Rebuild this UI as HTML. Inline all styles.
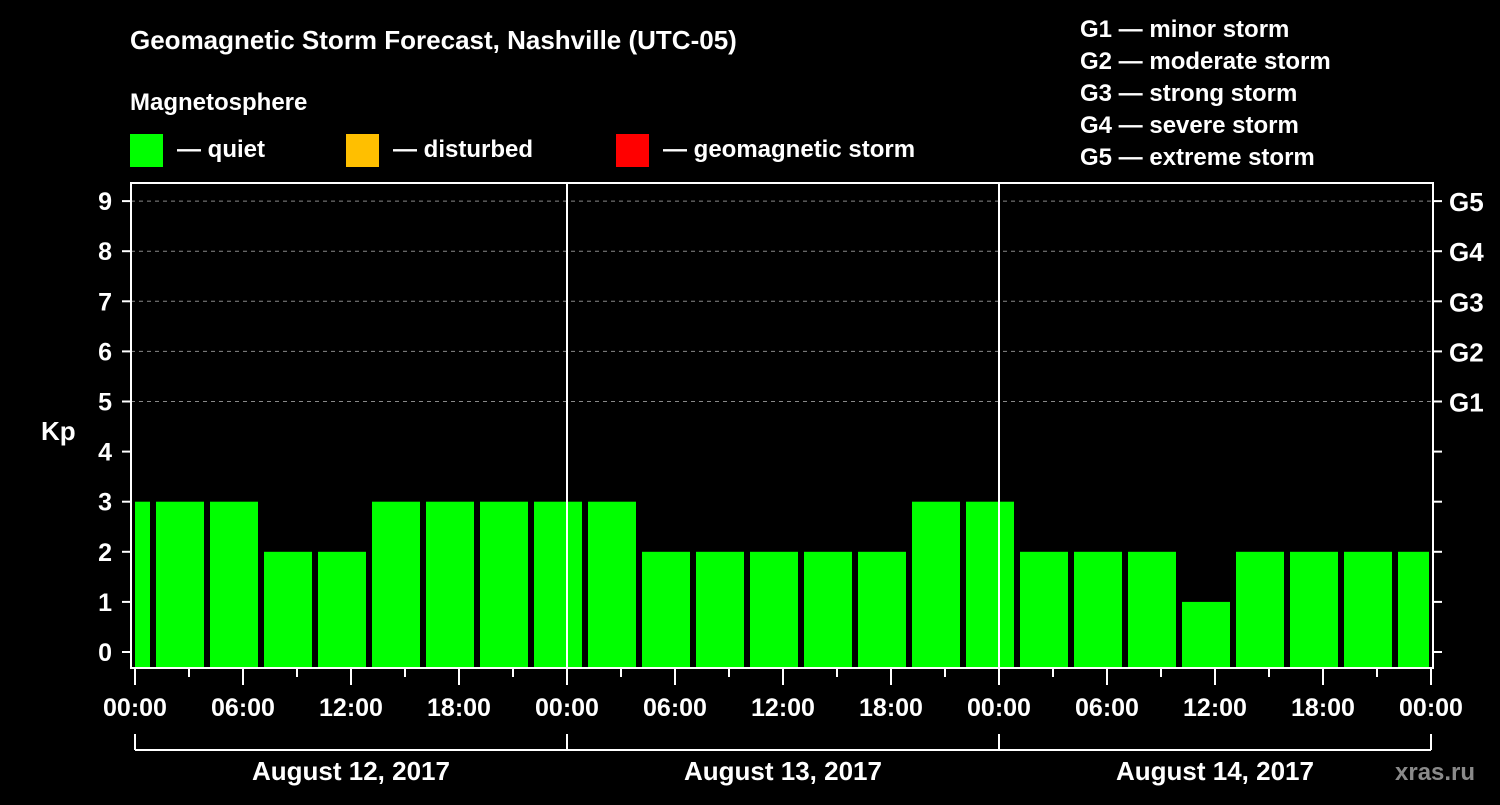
<!DOCTYPE html>
<html><head><meta charset="utf-8"><style>
html,body{margin:0;background:#000;}
svg text{font-family:"Liberation Sans",sans-serif;font-weight:bold;fill:#fff;}
</style></head><body>
<svg width="1500" height="800" xmlns="http://www.w3.org/2000/svg">
<rect width="1500" height="800" fill="#000"/>
<text x="130" y="49" font-size="26">Geomagnetic Storm Forecast, Nashville (UTC-05)</text>
<text x="130" y="110" font-size="24">Magnetosphere</text>
<g>
<rect x="130" y="134" width="33" height="33" fill="#00ff00"/>
<text x="177" y="157" font-size="24">— quiet</text>
<rect x="346" y="134" width="33" height="33" fill="#ffbf00"/>
<text x="393" y="157" font-size="24">— disturbed</text>
<rect x="616" y="134" width="33" height="33" fill="#ff0000"/>
<text x="663" y="157" font-size="24">— geomagnetic storm</text>
</g>
<g font-size="24">
<text x="1080" y="37">G1 — minor storm</text>
<text x="1080" y="69">G2 — moderate storm</text>
<text x="1080" y="101">G3 — strong storm</text>
<text x="1080" y="133">G4 — severe storm</text>
<text x="1080" y="165">G5 — extreme storm</text>
</g>
<text x="41" y="440" font-size="26">Kp</text>
<text x="1395" y="780" font-size="24" fill="#888" style="fill:#8a8a8a">xras.ru</text>
<g id="plot"></g>
</svg>
<script>
const kpValues=[3,3,3,2,2,3,3,3,3,3,2,2,2,2,2,3,3,2,2,2,1,2,2,2,2];
const yTicks=[0,1,2,3,4,5,6,7,8,9];
const gLabels=["G1","G2","G3","G4","G5"];
const hourLabels=["00:00","06:00","12:00","18:00"];
const dayLabels=["August 12, 2017","August 13, 2017","August 14, 2017"];
const NS="http://www.w3.org/2000/svg";
const g=document.getElementById('plot');
const L=131,R=1433,T=183,B=668,X0=135,PXH=18;
const y=v=>652-50.1*v;
const x=h=>X0+PXH*h;
function mk(t,a,p){const e=document.createElementNS(NS,t);for(const k in a)e.setAttribute(k,a[k]);(p||g).appendChild(e);return e;}
// grid
[5,6,7,8,9].forEach(v=>{const l=mk('line',{x1:L,x2:R,y1:y(v),y2:y(v),stroke:'#888','stroke-dasharray':'4,4','stroke-width':1});

});
// bars
kpValues.forEach((v,i)=>{const h0=3*(i-1)+1;let x1=x(h0)+3,x2=x(h0+3)-3;x1=Math.max(x1,X0);x2=Math.min(x2,x(72)-2);
const r=mk('rect',{x:x1,y:y(v),width:x2-x1,height:B-y(v),fill:v>=5?'#ff0000':(v>=4?'#ffbf00':'#00ff00')});

});
// day separators
[24,48].forEach(h=>{const l=mk('line',{x1:x(h),x2:x(h),y1:T,y2:B,stroke:'#fff','stroke-width':2});

});
// frame
const f=mk('rect',{x:L,y:T,width:R-L,height:B-T,fill:'none',stroke:'#fff','stroke-width':2});


// y ticks
yTicks.forEach(v=>{mk('line',{x1:122,x2:L,y1:y(v),y2:y(v),stroke:'#fff','stroke-width':2});
mk('line',{x1:R,x2:R+9,y1:y(v),y2:y(v),stroke:'#fff','stroke-width':2});
const t=mk('text',{x:112,y:y(v)+9,'font-size':25,'text-anchor':'end'});t.textContent=v;


if(v>=5){const gt=mk('text',{x:1449,y:y(v)+10,'font-size':26});gt.textContent=gLabels[v-5];

}});
// x ticks
for(let h=0;h<=72;h+=3){mk('line',{x1:x(h),x2:x(h),y1:B,y2:h%6?677:685,stroke:'#fff','stroke-width':2});}
for(let h=0;h<=72;h+=6){const t=mk('text',{x:x(h),y:716,'font-size':25,'text-anchor':'middle'});t.textContent=hourLabels[(h/6)%4];

}
// day brackets
mk('line',{x1:x(0),x2:x(72),y1:750,y2:750,stroke:'#fff','stroke-width':2});
[0,24,48,72].forEach(h=>mk('line',{x1:x(h),x2:x(h),y1:734,y2:750,stroke:'#fff','stroke-width':2}));
dayLabels.forEach((d,i)=>{const t=mk('text',{x:x(24*i+12),y:780,'font-size':26,'text-anchor':'middle'});t.textContent=d;

});
</script>
</body></html>
